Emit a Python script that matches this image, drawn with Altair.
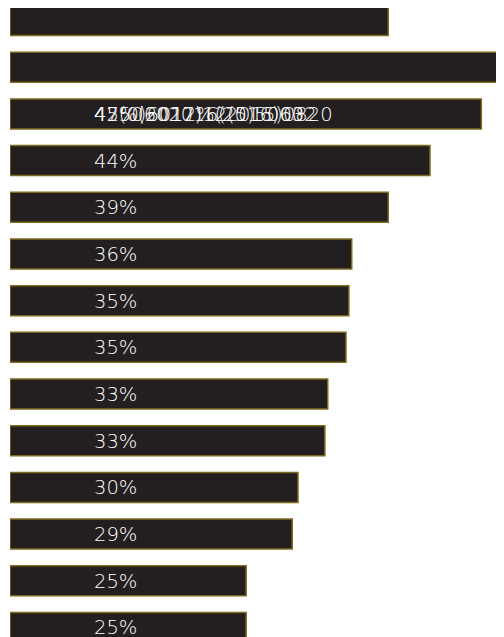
import altair as alt
import pandas as pd

categories = ["c01", "c02", "c03", "c04", "c05", "c06", "c07",
              "c08", "c09", "c10", "c11", "c12", "c13", "c14"]
values = [39.4, 53.0, 49.1, 43.75, 39.4, 35.6, 35.3, 35.0, 33.1, 32.8, 30.0, 29.4, 24.6, 24.6]
labels = ["", "", "", "44%", "39%", "36%", "35%", "35%", "33%", "33%", "30%", "29%", "25%", "25%"]
# overlapping, garbled labels drawn on the third bar
jumble_cat = "c03"
jumble_texts = ["4250602016(2015)0820", "47%(2017)12(5)50602", "45(0)6012%(2016)03"]

df = pd.DataFrame({"cat": categories, "value": values, "label": labels})
jdf = pd.DataFrame({"cat": [jumble_cat] * len(jumble_texts), "label": jumble_texts})

yscale = alt.Scale(domain=categories, paddingInner=0.357, paddingOuter=0)
xscale = alt.Scale(domain=[0, 51.46], nice=False)

bars = alt.Chart(df).mark_bar(
    fill="#231f20", stroke="#7d6a1f", strokeWidth=1.5, clip=True
).encode(
    y=alt.Y("cat:N", scale=yscale, axis=None),
    x=alt.X("value:Q", scale=xscale, axis=None),
)

text_style = dict(align="left", baseline="alphabetic", dy=7, fontSize=19.5,
                  font="DejaVu Sans", fontWeight=200, color="white")

text = alt.Chart(df).mark_text(**text_style).encode(
    y=alt.Y("cat:N", scale=yscale, axis=None),
    x=alt.value(84),
    text="label:N",
)

jumble = alt.Chart(jdf).mark_text(**text_style).encode(
    y=alt.Y("cat:N", scale=yscale, axis=None),
    x=alt.value(84),
    text="label:N",
)

chart = alt.layer(bars, text, jumble).properties(
    width=494, height=637,
    padding={"left": 2, "top": -2.5, "right": -8, "bottom": -5.5},
    autosize=alt.AutoSizeParams(type="none"),
).configure_view(stroke=None)

chart.save("out.html", embed_options={"renderer": "svg", "actions": False})
